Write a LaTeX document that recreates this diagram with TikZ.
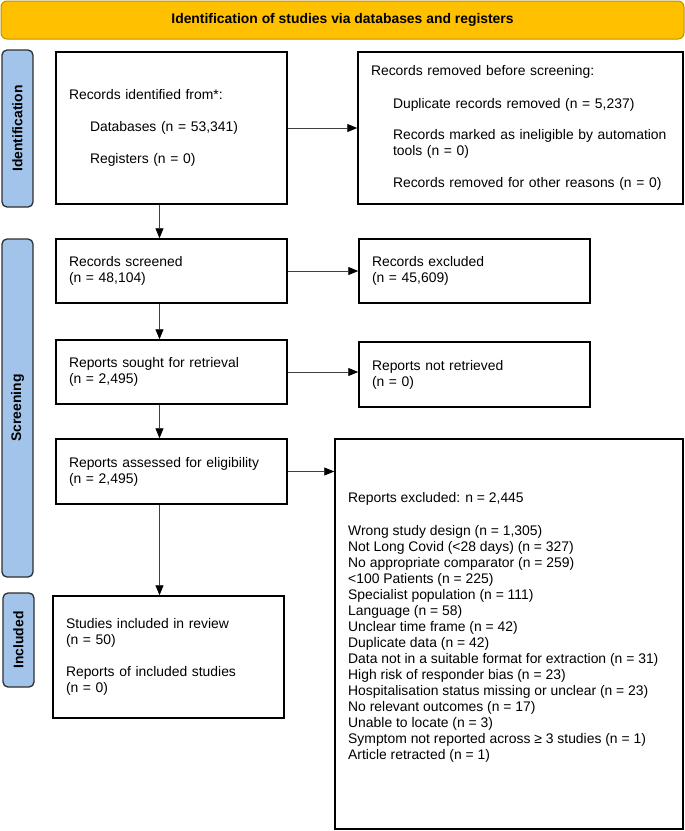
\documentclass[tikz,border=0pt]{standalone}
\usepackage{fontspec}
\setmainfont{Liberation Sans}
\usetikzlibrary{arrows.meta}
\definecolor{gold}{HTML}{FFC000}
\definecolor{goldedge}{HTML}{BF9000}
\definecolor{sideblue}{HTML}{A3C4EA}
\definecolor{sideedge}{HTML}{2E2E2E}
\definecolor{arrowgray}{HTML}{404040}
\begin{document}
\begin{tikzpicture}[x=1pt,y=-1pt,
  every node/.style={font=\fontsize{13.9}{16}\selectfont},
  flowbox/.style={draw=black, line width=1.5pt, rectangle, inner xsep=13pt, inner ysep=0pt, align=left, anchor=center},
  sidebox/.style={draw=sideedge, fill=sideblue, line width=1.3pt, rounded corners=5pt, inner sep=0pt, rotate=90, font=\fontsize{13.9}{16}\selectfont\bfseries},
  flowarrow/.style={draw=arrowgray, line width=0.9pt, -{Triangle[length=10pt,width=8pt,fill=black,color=black]}}
]
\useasboundingbox (0,0) rectangle (685,831);

% banner
\node[draw=goldedge, fill=gold, line width=1pt, rounded corners=6pt, minimum width=683pt, minimum height=38pt, inner sep=0pt, font=\fontsize{13.9}{16}\selectfont\bfseries] (banner) at (342.5,20) {Identification of studies via databases and registers};

% side labels
\node[sidebox, minimum width=157pt, minimum height=31pt] (idlabel) at (17.5,128.5) {Identification};
\node[sidebox, minimum width=338pt, minimum height=31pt] (scrlabel) at (17.5,408) {Screening};
\node[sidebox, minimum width=94pt, minimum height=31pt] (inclabel) at (18.5,640) {Included};

% flow boxes
\node[flowbox, text width=205pt, minimum height=152pt] (ident) at (171.5,128)
  {Records identified from*:\\[16pt]\hspace*{21pt}Databases (n = 53,341)\\[16pt]\hspace*{21pt}Registers (n = 0)};
\node[flowbox, text width=299pt, minimum height=152pt] (removed) at (520.5,128)
  {Records removed before screening:\\[17pt]\hspace*{22pt}Duplicate records removed (n = 5,237)\\[15pt]\hspace*{22pt}Records marked as ineligible by automation\\\hspace*{22pt}tools (n = 0)\\[16pt]\hspace*{22pt}Records removed for other reasons (n = 0)};

\node[flowbox, text width=205pt, minimum height=64pt] (screened) at (171.5,271)
  {Records screened\\(n = 48,104)};
\node[flowbox, text width=205pt, minimum height=64pt] (excluded) at (474.5,271)
  {Records excluded\\(n = 45,609)};

\node[flowbox, text width=205pt, minimum height=64pt] (sought) at (171.5,372)
  {Reports sought for retrieval\\(n = 2,495)};
\node[flowbox, text width=205pt, minimum height=65pt] (notret) at (474.5,374.5)
  {Reports not retrieved\\(n = 0)};

\node[flowbox, text width=205pt, minimum height=65pt] (assessed) at (171.5,471.5)
  {Reports assessed for eligibility\\(n = 2,495)};
\node[flowbox, minimum width=348pt, minimum height=390pt] (repexcl) at (509,634) {};
\node[anchor=north west, inner sep=0pt, align=left] (repexcltext) at (348,492)
  {Reports excluded: n = 2,445\\[17pt]
   Wrong study design (n = 1,305)\\
   Not Long Covid (<28 days) (n = 327)\\
   No appropriate comparator (n = 259)\\
   <100 Patients (n = 225)\\
   Specialist population (n = 111)\\
   Language (n = 58)\\
   Unclear time frame (n = 42)\\
   Duplicate data (n = 42)\\
   Data not in a suitable format for extraction (n = 31)\\
   High risk of responder bias (n = 23)\\
   Hospitalisation status missing or unclear (n = 23)\\
   No relevant outcomes (n = 17)\\
   Unable to locate (n = 3)\\
   Symptom not reported across ≥ 3 studies (n = 1)\\
   Article retracted (n = 1)};

\node[flowbox, text width=205pt, minimum height=122pt] (studies) at (168.5,657)
  {Studies included in review\\(n = 50)\\[16pt]Reports of included studies\\(n = 0)};

% connectors
\coordinate (ax) at (159.5,0);
\draw[flowarrow] (ident.east) -- (removed.west);
\draw[flowarrow] (ident.south -| ax) -- (screened.north -| ax);
\draw[flowarrow] (screened.east) -- (excluded.west);
\draw[flowarrow] (screened.south -| ax) -- (sought.north -| ax);
\draw[flowarrow] (sought.east) -- (sought.east -| notret.west);
\draw[flowarrow] (sought.south -| ax) -- (assessed.north -| ax);
\draw[flowarrow] (assessed.east) -- (assessed.east -| repexcl.west);
\draw[flowarrow] (assessed.south -| ax) -- (studies.north -| ax);
\end{tikzpicture}
\end{document}
